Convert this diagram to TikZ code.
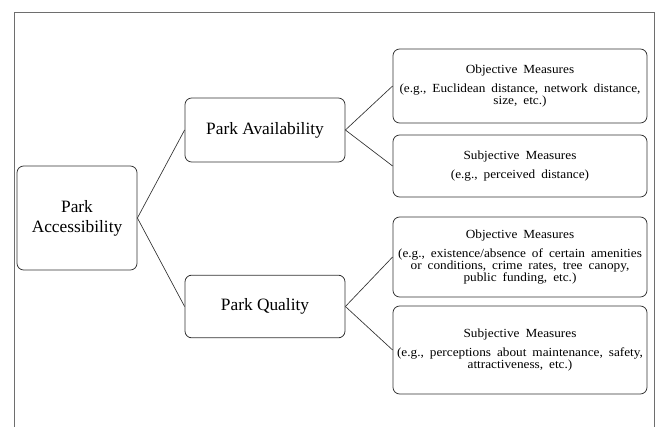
\documentclass[tikz,border=0pt]{standalone}
\usepackage{fontspec}
\setmainfont{Liberation Serif}
\newfontfamily\measfont[FakeStretch=1.07,WordSpace=1.8]{Liberation Serif}
\usetikzlibrary{positioning}
\definecolor{framegray}{RGB}{110,110,110}
\definecolor{boxline}{RGB}{50,50,50}
\tikzset{
  box/.style = {rectangle, draw=boxline, rounded corners=5pt,
                line width=0.6pt, align=center, inner sep=2pt,
                font = \fontsize{13}{15}\selectfont},
  measure/.style = {box, minimum width=190.5pt,
                    font = \measfont\fontsize{9.3}{9}\selectfont},
  link/.style = {draw=boxline, line width=0.5pt}
}

\begin{document}
\begin{tikzpicture}[x=0.75pt, y=-0.75pt]
  \useasboundingbox (0,0) rectangle (657,427);
  % frame
  \draw[framegray, line width=0.6pt] (14,427) -- (14,12) -- (654.5,12) -- (654.5,427);

  \node[box, minimum width=90pt, minimum height=78pt] (acc) at (77,218) {Park\\Accessibility};
  \node[box, minimum width=120pt, minimum height=48pt] (avail) at (265,130) {Park Availability};
  \node[box, minimum width=120pt, minimum height=47pt] (qual) at (265,306.5) {Park Quality};

  % measures
  \node[measure, minimum height=55.5pt] (availobj) at (520,86)
    {Objective Measures\\[5pt](e.g., Euclidean distance, network distance,\\size, etc.)};
  \node[measure, minimum height=46.5pt] (availsubj) at (520,166)
    {Subjective Measures\\[5pt](e.g., perceived distance)};
  \node[measure, minimum height=60pt] (qualobj) at (520,257)
    {Objective Measures\\[5pt](e.g., existence/absence of certain amenities\\or conditions, crime rates, tree canopy,\\public funding, etc.)};
  \node[measure, minimum height=66pt] (qualsubj) at (520,350)
    {Subjective Measures\\[5pt](e.g., perceptions about maintenance, safety,\\attractiveness, etc.)};

  \draw[link] (acc.east) -- (avail.west);
  \draw[link] (acc.east) -- (qual.west);
  \draw[link] (avail.east) -- (availobj.west);
  \draw[link] (avail.east) -- (availsubj.west);
  \draw[link] (qual.east) -- (qualobj.west);
  \draw[link] (qual.east) -- (qualsubj.west);
\end{tikzpicture}
\end{document}
